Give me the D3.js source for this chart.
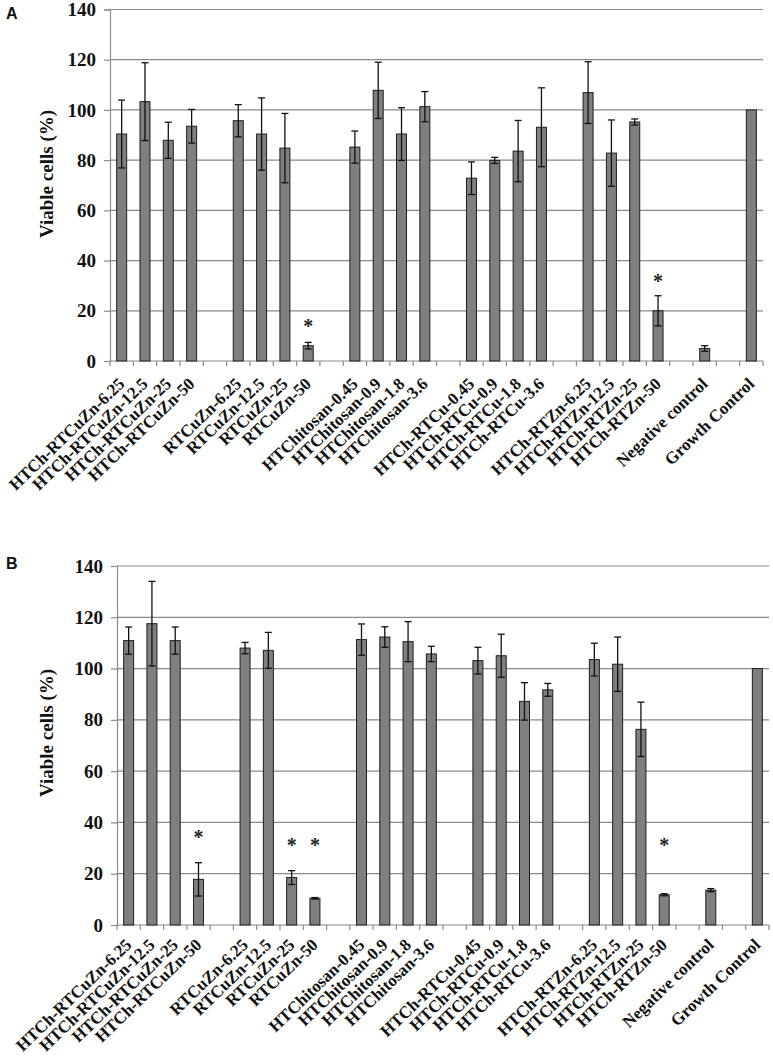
<!DOCTYPE html>
<html><head><meta charset="utf-8">
<script src="https://cdn.jsdelivr.net/npm/d3@7"></script>
<style>body{margin:0;background:#fff}</style></head><body>
<svg id="c" width="773" height="1063"></svg>
<script>
const categories = ["HTCh-RTCuZn-6.25","HTCh-RTCuZn-12.5","HTCh-RTCuZn-25","HTCh-RTCuZn-50","",
  "RTCuZn-6.25","RTCuZn-12.5","RTCuZn-25","RTCuZn-50","",
  "HTChitosan-0.45","HTChitosan-0.9","HTChitosan-1.8","HTChitosan-3.6","",
  "HTCh-RTCu-0.45","HTCh-RTCu-0.9","HTCh-RTCu-1.8","HTCh-RTCu-3.6","",
  "HTCh-RTZn-6.25","HTCh-RTZn-12.5","HTCh-RTZn-25","HTCh-RTZn-50","",
  "Negative control","","Growth Control"];
const yTicks = [0,20,40,60,80,100,120,140];

const valuesA = [90.4,103.3,87.9,93.5,null,95.7,90.4,84.8,6.1,null,85.2,107.8,90.4,101.3,null,72.8,79.9,83.6,93.1,null,106.9,82.8,95.2,20.0,null,5.0,null,100];
const errorsA = [13.5,15.5,7.2,6.7,null,6.4,14.4,13.8,1.3,null,6.4,11.2,10.5,6.0,null,6.5,1.2,12.2,15.7,null,12.3,13.2,1.2,6.0,null,1.1,null,0];
const starIndexA = [8,23];
const starValueA = [15.0,33.2];

const valuesB = [110.9,117.5,110.9,17.8,null,108.0,107.1,18.5,10.4,null,111.3,112.3,110.5,105.7,null,103.1,105.0,87.2,91.7,null,103.5,101.7,76.3,11.8,null,13.6,null,100];
const errorsB = [5.3,16.5,5.3,6.5,null,2.2,7.0,2.7,0.3,null,6.1,4.0,7.8,3.0,null,5.2,8.4,7.3,2.5,null,6.4,10.6,10.6,0.4,null,0.6,null,0];
const starIndexB = [3,7,8,23];
const starValueB = [35.5,32.5,32.5,32.5];

const svg = d3.select("#c");
const serif = "'Liberation Serif','Times New Roman',serif";

function panel(cfg){
  const g = svg.append("g");
  const x = d3.scaleBand().domain(d3.range(categories.length)).range([cfg.left, cfg.right]).paddingInner(0).paddingOuter(0);
  const y = d3.scaleLinear().domain([0,140]).range([cfg.bottom, cfg.top]);
  const bw = 10;

  g.selectAll("line.grid").data(yTicks).join("line")
    .attr("x1", cfg.left).attr("x2", cfg.right)
    .attr("y1", d=>y(d)).attr("y2", d=>y(d))
    .attr("stroke", "#8a8a8a").attr("stroke-width", 1.2);
  const ya = g.append("g").attr("transform", `translate(${cfg.left},0)`)
    .call(d3.axisLeft(y).tickValues(yTicks).tickSize(6).tickPadding(8).tickFormat(d3.format("d")));
  ya.select(".domain").attr("stroke", "#8a8a8a").attr("stroke-width", 1.2);
  ya.selectAll(".tick line").attr("stroke", "#8a8a8a").attr("stroke-width", 1.2);
  ya.selectAll(".tick text").attr("font-family", serif).attr("font-weight", "bold")
    .attr("font-size", 19).attr("fill", "#111");

  const bounds = d3.range(categories.length + 1).map(i => cfg.left + i * x.step());
  g.selectAll("line.xt").data(bounds).join("line")
    .attr("x1", d=>d).attr("x2", d=>d).attr("y1", cfg.bottom).attr("y2", cfg.bottom + 5)
    .attr("stroke", "#8a8a8a").attr("stroke-width", 1.2);

  const idx = d3.range(categories.length).filter(i => cfg.values[i] != null);
  g.selectAll("rect.bar").data(idx).join("rect")
    .attr("x", i => x(i) + x.bandwidth()/2 - bw/2)
    .attr("width", bw)
    .attr("y", i => y(cfg.values[i]))
    .attr("height", i => y(0) - y(cfg.values[i]))
    .attr("fill", "#7f7f7f").attr("stroke", "#1e1e1e").attr("stroke-width", 1);
  const eb = idx.filter(i => cfg.errors[i] > 0);
  const eg = g.selectAll("g.eb").data(eb).join("g").attr("stroke", "#111").attr("stroke-width", 1.3);
  eg.append("line")
    .attr("x1", i => x(i) + x.bandwidth()/2).attr("x2", i => x(i) + x.bandwidth()/2)
    .attr("y1", i => y(cfg.values[i] + cfg.errors[i])).attr("y2", i => y(cfg.values[i] - cfg.errors[i]));
  [1,-1].forEach(s => {
    eg.append("line")
      .attr("x1", i => x(i) + x.bandwidth()/2 - 3.5).attr("x2", i => x(i) + x.bandwidth()/2 + 3.5)
      .attr("y1", i => y(cfg.values[i] + s*cfg.errors[i])).attr("y2", i => y(cfg.values[i] + s*cfg.errors[i]));
  });
  g.selectAll("text.star").data(cfg.starIndex).join("text")
    .attr("x", i => x(i) + x.bandwidth()/2)
    .attr("y", (i, k) => y(cfg.starValue[k]) + 10)
    .attr("text-anchor", "middle")
    .attr("font-family", serif).attr("font-weight", "bold").attr("font-size", 20)
    .attr("fill", "#222").text("*");

  g.selectAll("text.xl").data(d3.range(categories.length).filter(i => categories[i] !== "")).join("text")
    .attr("transform", i => `translate(${x(i) + x.bandwidth()/2 + 4},${cfg.bottom + cfg.labelDy}) rotate(-44)`)
    .attr("text-anchor", "end")
    .attr("font-family", serif).attr("font-weight", "bold").attr("font-size", 17)
    .attr("fill", "#111").text(i => categories[i]);

  g.append("text")
    .attr("transform", `translate(46,${cfg.titleY}) rotate(-90)`)
    .attr("text-anchor", "middle").attr("dominant-baseline", "central")
    .attr("font-family", serif).attr("font-weight", "bold").attr("font-size", 19)
    .attr("fill", "#111").text("Viable cells (%)");

  g.append("text").attr("x", 6).attr("y", cfg.letterY)
    .attr("font-family", "'Liberation Sans',Arial,sans-serif").attr("font-weight", "bold")
    .attr("font-size", 16).attr("fill", "#111").text(cfg.letter);
}

panel({letter:"A", letterY:19, left:110, right:763, top:9.5, bottom:361, labelDy:24, titleY:174,
  values:valuesA, errors:errorsA, starIndex:starIndexA, starValue:starValueA});
panel({letter:"B", letterY:569, left:117, right:769, top:566, bottom:925, labelDy:21, titleY:733,
  values:valuesB, errors:errorsB, starIndex:starIndexB, starValue:starValueB});
</script>
</body></html>
